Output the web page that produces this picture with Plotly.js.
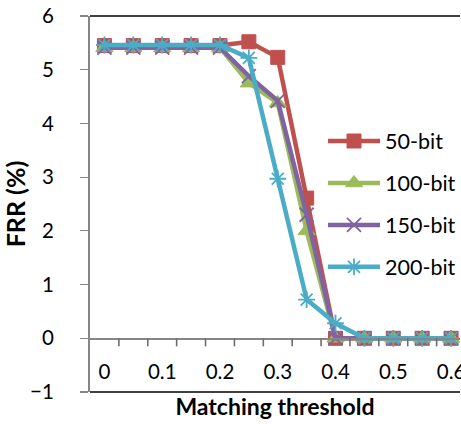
<!DOCTYPE html>
<html>
<head>
<meta charset="utf-8">
<script src="https://cdn.plot.ly/plotly-3.0.1.min.js"></script>
<style>html,body{margin:0;padding:0;background:#fff;}#chart{width:461px;height:424px;}</style>
</head>
<body>
<div id="chart"></div>
<script>
const thresholds = [0, 0.05, 0.1, 0.15, 0.2, 0.25, 0.3, 0.35, 0.4, 0.45, 0.5, 0.55, 0.6];
const frr50  = [5.45, 5.45, 5.45, 5.45, 5.45, 5.52, 5.23, 2.61, 0, 0, 0, 0, 0];
const frr100 = [5.41, 5.41, 5.41, 5.41, 5.41, 4.75, 4.38, 2.0, 0, 0, 0, 0, 0];
const frr150 = [5.41, 5.41, 5.41, 5.41, 5.41, 4.88, 4.42, 2.3, 0, 0, 0, 0, 0];
const frr200 = [5.46, 5.46, 5.46, 5.46, 5.46, 5.22, 2.97, 0.72, 0.28, 0, 0, 0, 0];
const seriesNames = ['50-bit', '100-bit', '150-bit', '200-bit'];
const xTickVals = [0, 0.1, 0.2, 0.3, 0.4, 0.5, 0.6];
const xTickText = ['0', '0.1', '0.2', '0.3', '0.4', '0.5', '0.6'];
const yTickVals = [-1, 0, 1, 2, 3, 4, 5, 6];
// category boundaries (tick marks sit between categories)
const xBoundaries = thresholds.map(v => v + 0.025);

const FONT = 'Lato, "Open Sans", sans-serif';
const colors = ['#C0504D', '#9BBB59', '#8064A2', '#4BACC6'];
const symbols = ['square', 'triangle-up', 'x-thin-open', 'asterisk-open'];
const data = [frr50, frr100, frr150, frr200].map((ys, i) => ({
  x: thresholds, y: ys, name: seriesNames[i], type: 'scatter', mode: 'lines+markers',
  legendgroup: 'g' + i,
  line: {color: colors[i], width: 4.5},
  marker: {symbol: symbols[i], size: i === 1 ? 15 : 14, color: colors[i],
           line: {color: colors[i], width: i >= 2 ? 1.8 : 1}},
  cliponaxis: false
}));

const tickShapes = xBoundaries.map(b => ({
  type: 'line', xref: 'x', yref: 'y', x0: b, x1: b, y0: 0, y1: -0.15,
  line: {color: '#6e6e6e', width: 1.6}, layer: 'above'
}));

const xr = [-0.025, 0.6155];
const layout = {
  width: 461, height: 424,
  margin: {l: 89.5, r: 0, t: 16, b: 31.5},
  paper_bgcolor: '#fff', plot_bgcolor: '#fff',
  font: {family: FONT, size: 20, color: '#000'},
  showlegend: true,
  legend: {x: 0.63, y: 0.722, xanchor: 'left', yanchor: 'top', bgcolor: 'rgba(0,0,0,0)',
           itemwidth: 52,
           font: {family: FONT, size: 21.5, color: '#000'}, tracegroupgap: 11},
  shapes: [
    {type: 'line', xref: 'paper', yref: 'paper', x0: 0, x1: 1, y0: 1, y1: 1, line: {color: '#000', width: 1.3}},
    {type: 'line', xref: 'paper', yref: 'paper', x0: 0, x1: 1, y0: 0, y1: 0, line: {color: '#000', width: 1.3}}
  ].concat(tickShapes),
  xaxis: {range: xr, anchor: 'free', position: 1/7, showgrid: false, zeroline: false,
          showline: true, linecolor: '#868686', linewidth: 1.5,
          tickmode: 'array', tickvals: xTickVals, ticktext: xTickText, ticks: '',
          ticklabelstandoff: 15, ticklabeloverflow: 'allow',
          tickfont: {family: FONT, size: 20.5},
          title: {text: 'Matching threshold', font: {family: FONT, size: 23, weight: 'bold'}, standoff: 16}},
  yaxis: {range: [-1, 6], tickmode: 'array', tickvals: yTickVals, showgrid: false, zeroline: false,
          showline: true, linecolor: '#868686', linewidth: 2,
          ticks: 'outside', ticklen: 8, tickcolor: '#868686', tickwidth: 1.2,
          ticklabelstandoff: 22,
          tickfont: {family: FONT, size: 20.5},
          title: {text: 'FRR (%)', font: {family: FONT, size: 25, weight: 'bold'}, standoff: 4}}
};
Plotly.newPlot('chart', data, layout, {displayModeBar: false, staticPlot: true});
</script>
</body>
</html>
